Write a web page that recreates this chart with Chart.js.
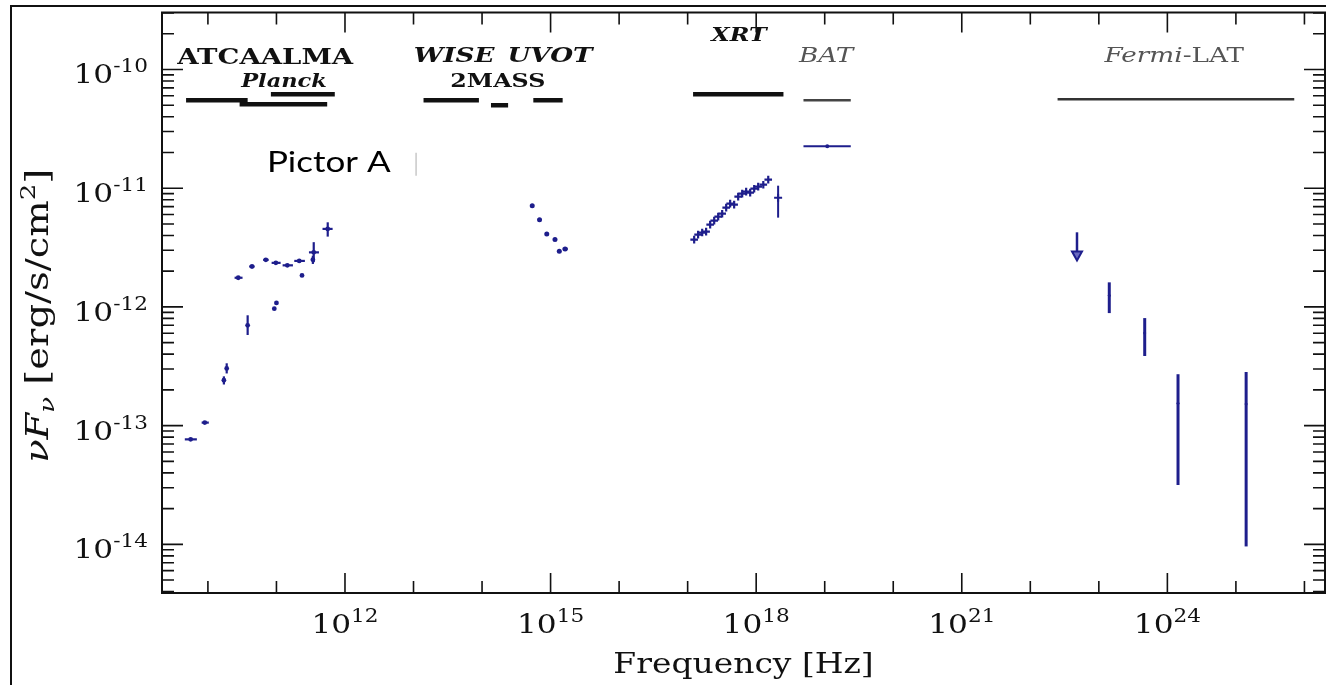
<!DOCTYPE html>
<html>
<head>
<meta charset="utf-8">
<script src="https://cdn.jsdelivr.net/npm/chart.js@4.4.0/dist/chart.umd.min.js"></script>
<style>
  html, body { margin: 0; padding: 0; background: #fff; }
</style>
</head>
<body>
<canvas id="myChart" width="1326" height="685"></canvas>
<script>
// SED van Pictor A

// radio / mm
const radioFreq   = [5.6e9, 9.0e9, 1.71e10, 1.88e10, 3.8e10, 2.77e10, 4.4e10, 7.0e10, 9.8e10, 1.44e11, 2.15e11, 2.36e11, 9.3e10, 1.0e11, 3.5e11, 3.4e11, 5.6e11]
const radioFlux   = [7.66e-14, 1.06e-13, 2.41e-13, 3.03e-13, 7.0e-13, 1.76e-12, 2.19e-12, 2.49e-12, 2.35e-12, 2.24e-12, 2.44e-12, 1.84e-12, 9.66e-13, 1.08e-12, 2.88e-12, 2.5e-12, 4.54e-12]
const radioFreqLo = [4.6e9, 8.1e9, null, null, null, 2.45e10, 4.0e10, 6.4e10, 8.5e10, 1.23e11, 1.82e11, null, null, null, 2.98e11, null, 4.7e11]
const radioFreqHi = [6.9e9, 1.03e10, null, null, null, 3.2e10, 4.8e10, 7.7e10, 1.15e11, 1.74e11, 2.6e11, null, null, null, 4.17e11, null, 6.6e11]
const radioFluxLo = [null, null, 2.22e-13, 2.75e-13, 5.8e-13, null, null, null, null, null, null, null, null, null, 2.38e-12, 2.3e-12, 3.91e-12]
const radioFluxHi = [null, null, 2.6e-13, 3.35e-13, 8.5e-13, null, null, null, null, null, null, null, null, null, 3.51e-12, 2.7e-12, 5.16e-12]

// WISE / 2MASS / UVOT
const optFreq   = [5.4e14, 6.9e14, 8.8e14, 1.16e15, 1.34e15, 1.63e15]
const optFlux   = [7.13e-12, 5.41e-12, 4.12e-12, 3.69e-12, 2.94e-12, 3.08e-12]
const optFreqLo = [null, null, 8.3e14, 1.1e15, null, 1.5e15]
const optFreqHi = [null, null, 9.3e14, 1.23e15, null, 1.78e15]

// XRT
const xrtFreq = [1.245e17, 1.42e17, 1.63e17, 1.86e17, 2.13e17, 2.44e17, 2.79e17, 3.19e17, 3.65e17, 4.17e17, 4.77e17, 5.46e17, 6.25e17, 7.14e17, 8.17e17, 9.35e17, 1.07e18, 1.27e18, 1.5e18]
const xrtFlux = [3.69e-12, 4.06e-12, 4.23e-12, 4.31e-12, 4.93e-12, 5.33e-12, 5.76e-12, 6.1e-12, 6.86e-12, 7.41e-12, 7.27e-12, 8.49e-12, 9.0e-12, 9.35e-12, 9.17e-12, 9.9e-12, 1.03e-11, 1.07e-11, 1.18e-11]
const xrtHardFreq = [2.09e18]
const xrtHardFlux = [8.32e-12]
const xrtHardLo   = [5.65e-12]
const xrtHardHi   = [1.05e-11]

// BAT
const batFreq = [1.09e19]
const batFlux = [2.26e-11]
const batFreqLo = [4.9e18]
const batFreqHi = [2.4e19]

// Fermi-LAT
const fermiFreq   = [1.42e23, 4.67e23, 1.43e24, 1.41e25]
const fermiFlux   = [1.25e-12, 6.03e-13, 1.54e-13, 1.52e-13]
const fermiFluxLo = [8.87e-13, 3.86e-13, 3.16e-14, 9.6e-15]
const fermiFluxHi = [1.61e-12, 8.05e-13, 2.71e-13, 2.83e-13]
const fermiULFreq = [4.8e22]
const fermiULFlux = [4.25e-12]
const fermiULTip  = [2.46e-12]

// bandbreedte van de instrumenten
const instNames = ['ATCA', 'ALMA', 'Planck', 'WISE', '2MASS', 'UVOT', 'XRT', 'BAT', 'Fermi-LAT']
const instLo    = [4.8e9, 2.9e10, 8.3e10, 1.4e13, 1.35e14, 5.6e14, 1.2e17, 4.9e18, 2.5e22]
const instHi    = [3.8e10, 5.5e11, 7.1e11, 9.0e13, 2.4e14, 1.5e15, 2.5e18, 2.4e19, 7.1e25]
const instLevel = [5.5e-11, 5.1e-11, 6.2e-11, 5.5e-11, 5.0e-11, 5.5e-11, 6.2e-11, 5.5e-11, 5.6e-11]

// assen
const xTickExp  = [10, 11, 12, 13, 14, 15, 16, 17, 18, 19, 20, 21, 22, 23, 24, 25, 26]
const xLabelExp = [12, 15, 18, 21, 24]
const yLabelExp = [-14, -13, -12, -11, -10]
const yMinorMul = [2, 3, 4, 5, 6, 7, 8, 9]

const navy = '#1e1e8c'
const SX = 1.25   // de figuur is horizontaal uitgerekt
const serif = '"DejaVu Serif"'

// stijl per instrument
const instStyle = {
  'ATCA': ['#111', 4.5], 'ALMA': ['#111', 4.5], 'Planck': ['#111', 4.5],
  'WISE': ['#111', 4.5], '2MASS': ['#111', 4.5], 'UVOT': ['#111', 4.5],
  'XRT': ['#111', 4.5], 'BAT': ['#444', 2.5], 'Fermi-LAT': ['#333', 2.5]
}

// tekstlabels (positie in data-coordinaten)
const textLabels = [
  { runs: [['ATCA', 'bold 22px ' + serif]], x: 5.9e10, y: 1.30e-10, align: 'right', color: '#111' },
  { runs: [['ALMA', 'bold 22px ' + serif]], x: 5.9e10, y: 1.30e-10, align: 'left', color: '#111' },
  { runs: [['Planck', 'italic bold 18px ' + serif]], x: 1.29e11, y: 8.3e-11, align: 'center', color: '#111' },
  { runs: [['WISE', 'italic bold 21px ' + serif]], x: 3.9e13, y: 1.35e-10, align: 'center', color: '#111' },
  { runs: [['UVOT', 'italic bold 21px ' + serif]], x: 9.8e14, y: 1.35e-10, align: 'center', color: '#111' },
  { runs: [['2MASS', 'bold 19px ' + serif]], x: 1.7e14, y: 8.3e-11, align: 'center', color: '#111' },
  { runs: [['XRT', 'italic bold 19px ' + serif]], x: 5.6e17, y: 2.03e-10, align: 'center', color: '#111' },
  { runs: [['BAT', 'italic 21px ' + serif]], x: 1.05e19, y: 1.35e-10, align: 'center', color: '#555' },
  { runs: [['Fermi', 'italic 21px ' + serif], ['-LAT', '21px ' + serif]], x: 1.26e24, y: 1.35e-10, align: 'center', color: '#555' },
  { runs: [['Pictor A', '28px Lato']], x: 5.8e11, y: 1.61e-11, align: 'center', color: '#000' }
]

function pts(fx, fy, xlo, xhi, ylo, yhi) {
  return fx.map((x, i) => ({
    x: x, y: fy[i],
    xMin: xlo ? xlo[i] : null, xMax: xhi ? xhi[i] : null,
    yMin: ylo ? ylo[i] : null, yMax: yhi ? yhi[i] : null
  }))
}

// tekst met stukjes in verschillende fonts, horizontaal uitgerekt
function drawRuns(c, runs, x, y, align, sx) {
  c.save()
  let w = 0
  const ws = runs.map(r => { c.font = r[1]; const m = c.measureText(r[0]).width; w += m; return m })
  let x0 = align === 'center' ? x - w * sx / 2 : align === 'right' ? x - w * sx : x
  c.translate(x0, y)
  c.scale(sx, 1)
  c.textAlign = 'left'
  c.textBaseline = 'alphabetic'
  let cx = 0
  runs.forEach((r, i) => {
    c.font = r[1]
    c.fillText(r[0], cx, r[2] || 0)
    cx += ws[i]
  })
  c.restore()
  return w * sx
}

const datasets = []
instNames.forEach((n, i) => {
  datasets.push({
    type: 'line', label: n,
    data: [{ x: instLo[i], y: instLevel[i] }, { x: instHi[i], y: instLevel[i] }],
    borderColor: instStyle[n][0], borderWidth: instStyle[n][1],
    pointRadius: 0, showLine: true, borderCapStyle: 'butt'
  })
})
datasets.push({ label: 'radio', data: pts(radioFreq, radioFlux, radioFreqLo, radioFreqHi, radioFluxLo, radioFluxHi),
  pointRadius: 2.4, backgroundColor: navy, borderWidth: 0, errWidth: 2.2 })
datasets.push({ label: 'optical', data: pts(optFreq, optFlux, optFreqLo, optFreqHi, null, null),
  pointRadius: 2.5, backgroundColor: navy, borderWidth: 0, errWidth: 2.5 })
datasets.push({ label: 'XRT', data: pts(xrtFreq, xrtFlux, null, null, null, null),
  pointStyle: 'cross', pointRadius: 3.8, borderColor: navy, borderWidth: 2.2 })
datasets.push({ label: 'XRT hard', data: pts(xrtHardFreq, xrtHardFlux, null, null, xrtHardLo, xrtHardHi),
  pointStyle: 'cross', pointRadius: 4, borderColor: navy, borderWidth: 2, errWidth: 2 })
datasets.push({ label: 'BAT', data: pts(batFreq, batFlux, batFreqLo, batFreqHi, null, null),
  pointRadius: 2, backgroundColor: navy, borderWidth: 0, errWidth: 2 })
datasets.push({ label: 'LAT', data: pts(fermiFreq, fermiFlux, null, null, fermiFluxLo, fermiFluxHi),
  pointRadius: 1.5, backgroundColor: navy, borderWidth: 0, errWidth: 3 })
datasets.push({ label: 'LAT UL', data: pts(fermiULFreq, fermiULFlux, null, null, null, null),
  pointRadius: 0, arrowTo: fermiULTip })

const errorBars = {
  id: 'errorBars',
  afterDatasetsDraw(chart) {
    const c = chart.ctx, xs = chart.scales.x, ys = chart.scales.y
    c.save()
    chart.data.datasets.forEach(ds => {
      if (!ds.errWidth && !ds.arrowTo) return
      c.strokeStyle = navy
      c.fillStyle = navy
      ds.data.forEach((p, i) => {
        const px = xs.getPixelForValue(p.x), py = ys.getPixelForValue(p.y)
        c.lineWidth = ds.errWidth || 2.5
        if (p.xMin != null) {
          c.beginPath(); c.moveTo(xs.getPixelForValue(p.xMin), py); c.lineTo(xs.getPixelForValue(p.xMax), py); c.stroke()
        }
        if (p.yMin != null) {
          c.beginPath(); c.moveTo(px, ys.getPixelForValue(p.yMin)); c.lineTo(px, ys.getPixelForValue(p.yMax)); c.stroke()
        }
        if (ds.arrowTo) {
          const tip = ys.getPixelForValue(ds.arrowTo[i])
          c.lineWidth = 2.5
          c.beginPath(); c.moveTo(px, py); c.lineTo(px, tip - 4); c.stroke()
          c.lineWidth = 2
          c.beginPath(); c.moveTo(px - 5, tip - 9); c.lineTo(px + 5, tip - 9); c.lineTo(px, tip); c.closePath()
          c.fillStyle = '#6a6ac0'; c.fill(); c.stroke()
        }
      })
    })
    c.restore()
  }
}

const decor = {
  id: 'decor',
  afterDraw(chart) {
    const c = chart.ctx, xs = chart.scales.x, ys = chart.scales.y, a = chart.chartArea
    c.save()
    // kader rond de hele figuur
    c.strokeStyle = '#111'; c.lineWidth = 2
    c.beginPath(); c.moveTo(11, chart.height); c.lineTo(11, 6); c.lineTo(chart.width, 6); c.stroke()
    // kader van de plot
    c.strokeRect(a.left, a.top, a.right - a.left, a.bottom - a.top)
    // tickmarks naar binnen, op alle vier de zijden
    c.lineWidth = 1.6
    xTickExp.forEach(e => {
      const px = xs.getPixelForValue(Math.pow(10, e))
      const len = xLabelExp.includes(e) ? 20 : 12
      c.beginPath(); c.moveTo(px, a.bottom); c.lineTo(px, a.bottom - len)
      c.moveTo(px, a.top); c.lineTo(px, a.top + len); c.stroke()
    })
    for (let e = -15; e <= -9; e++) {
      const major = Math.pow(10, e)
      const vals = [[major, 21]].concat(yMinorMul.map(m => [m * major, 12]))
      vals.forEach(([v, len]) => {
        if (v < ys.min || v > ys.max) return
        const py = ys.getPixelForValue(v)
        c.beginPath(); c.moveTo(a.left, py); c.lineTo(a.left + len, py)
        c.moveTo(a.right, py); c.lineTo(a.right - len, py); c.stroke()
      })
    }
    // ticklabels 10^n
    c.fillStyle = '#111'
    xLabelExp.forEach(e => {
      const px = xs.getPixelForValue(Math.pow(10, e))
      drawRuns(c, [['10', '26px ' + serif], [String(e), '18px ' + serif, -11]], px, a.bottom + 40, 'center', 1.2)
    })
    yLabelExp.forEach(e => {
      const py = ys.getPixelForValue(Math.pow(10, e))
      drawRuns(c, [['10', '26px ' + serif], [String(e), '18px ' + serif, -11]], a.left - 14, py + 14, 'right', 1.2)
    })
    // astitels
    drawRuns(c, [['Frequency [Hz]', '27px ' + serif]], (a.left + a.right) / 2, chart.height - 12, 'center', 1.22)
    c.save()
    c.translate(48, (a.top + a.bottom) / 2 + 13)
    c.rotate(-Math.PI / 2)
    drawRuns(c, [['\u03bd', 'italic 31px ' + serif], ['F', 'italic 31px ' + serif], ['\u03bd', 'italic 21px ' + serif, 6],
      [' [erg/s/cm', '31px ' + serif], ['2', '21px ' + serif, -13], [']', '31px ' + serif]], 0, 0, 'center', 1.24)
    c.restore()
    // instrumentnamen en bronnaam
    textLabels.forEach(l => {
      c.fillStyle = l.color
      drawRuns(c, l.runs, xs.getPixelForValue(l.x), ys.getPixelForValue(l.y) + 8, l.align, SX)
    })
    // rand van het geplakte tekstvak
    c.strokeStyle = '#c8c8c8'; c.lineWidth = 1.5
    const gx = xs.getPixelForValue(1.09e13)
    c.beginPath(); c.moveTo(gx, ys.getPixelForValue(1.99e-11)); c.lineTo(gx, ys.getPixelForValue(1.27e-11)); c.stroke()
    c.restore()
  }
}

let ctx = document.getElementById('myChart').getContext('2d')
let myChart = new Chart(ctx, {
  type: 'scatter',
  data: { datasets: datasets },
  plugins: [errorBars, decor],
  options: {
    responsive: false,
    animation: false,
    events: [],
    layout: { autoPadding: false, padding: { left: 12, right: 1, top: 12.5, bottom: 0 } },
    plugins: { legend: { display: false }, tooltip: { enabled: false } },
    scales: {
      x: {
        type: 'logarithmic', position: 'bottom',
        min: Math.pow(10, 9.33), max: Math.pow(10, 26.3),
        ticks: { display: false }, grid: { display: false }, border: { display: false },
        afterFit: s => { s.height = 92 }
      },
      y: {
        type: 'logarithmic', position: 'left',
        min: Math.pow(10, -14.41), max: Math.pow(10, -9.52),
        ticks: { display: false }, grid: { display: false }, border: { display: false },
        afterFit: s => { s.width = 150 }
      }
    }
  }
})
</script>
</body>
</html>
